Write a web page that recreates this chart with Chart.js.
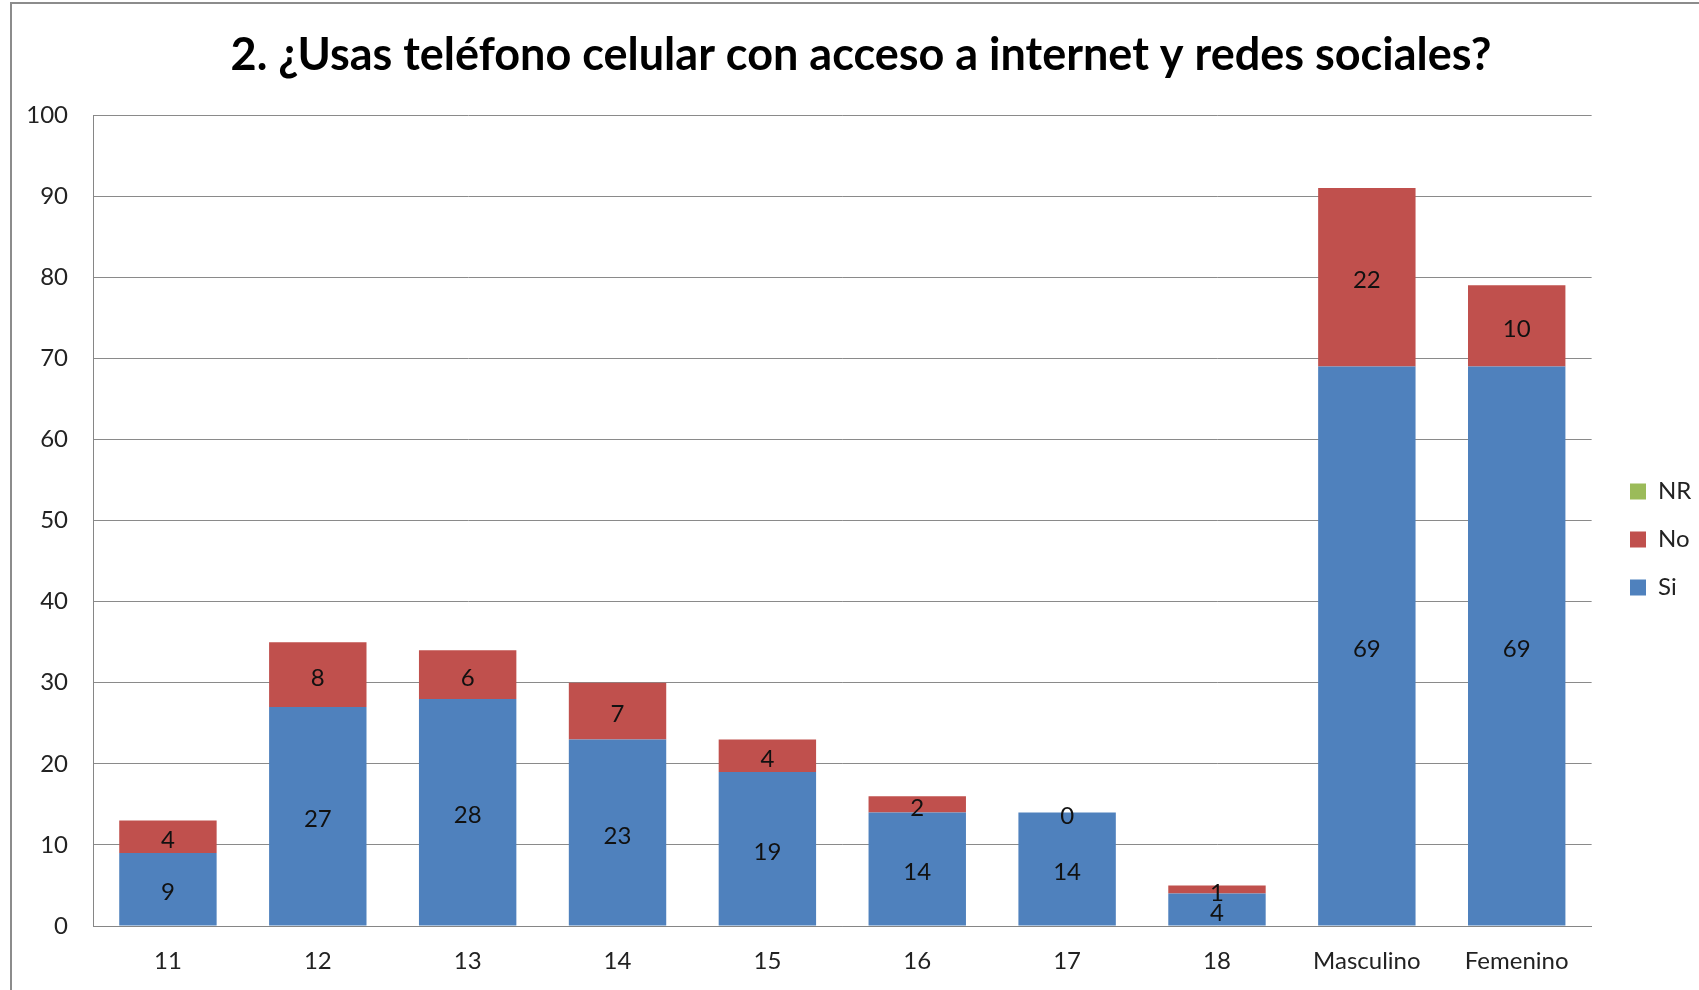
<!DOCTYPE html>
<html>
<head>
<meta charset="utf-8">
<script src="https://cdn.jsdelivr.net/npm/chart.js@4/dist/chart.umd.min.js"></script>
<style>
html,body{margin:0;padding:0;background:#fff;overflow:hidden;}
#wrap{position:relative;width:1699px;height:990px;}
canvas{display:block;}
</style>
</head>
<body>
<div id="wrap"><canvas id="c" width="1699" height="990"></canvas></div>
<script>
const title = "2. ¿Usas teléfono celular con acceso a internet y redes sociales?";
const categories = ["11","12","13","14","15","16","17","18","Masculino","Femenino"];
const siValues = [9,27,28,23,19,14,14,4,69,69];
const noValues = [4,8,6,7,4,2,0,1,22,10];
const nrValues = [null,null,null,null,null,null,null,null,null,null];
const yTicks = [0,10,20,30,40,50,60,70,80,90,100];

const FONT = "Lato, 'Open Sans', sans-serif";

const frame = {
  id: 'frame',
  beforeDraw(chart) {
    const ctx = chart.ctx;
    ctx.save();
    ctx.fillStyle = '#fff';
    ctx.fillRect(0,0,chart.width,chart.height);
    ctx.strokeStyle = '#8c8c8c';
    ctx.lineWidth = 2;
    ctx.beginPath();
    ctx.moveTo(11, chart.height + 5);
    ctx.lineTo(11, 3);
    ctx.lineTo(chart.width + 5, 3);
    ctx.stroke();
    ctx.restore();
  }
};

const boxPlace = {
  id: 'boxPlace',
  afterLayout(chart) {
    const lg = chart.legend;
    if (lg) {
      const w = lg.right - lg.left;
      lg.left = 1630 - lg.options.labels.padding;
      lg.right = lg.left + w;
      lg.top += 34.5;
      lg.bottom += 34.5;
    }
    const tb = chart.titleBlock;
    if (tb) {
      tb.left += 11.5;
      tb.right += 11.5;
    }
  }
};

const valueLabels = {
  id: 'valueLabels',
  afterDatasetsDraw(chart) {
    const ctx = chart.ctx;
    ctx.save();
    ctx.font = "24px " + FONT;
    ctx.fillStyle = '#111';
    ctx.textAlign = 'center';
    ctx.textBaseline = 'middle';
    chart.data.datasets.forEach((ds, i) => {
      const meta = chart.getDatasetMeta(i);
      meta.data.forEach((el, j) => {
        const v = ds.data[j];
        if (v === null || v === undefined) return;
        const p = el.getProps(['x','y','base'], true);
        ctx.fillText(String(v), p.x, (p.y + p.base) / 2 + 3.5);
      });
    });
    ctx.restore();
  }
};

new Chart(document.getElementById('c'), {
  type: 'bar',
  data: {
    labels: categories,
    datasets: [
      {label: 'Si', data: siValues, backgroundColor: '#4F81BD', borderWidth: 0},
      {label: 'No', data: noValues, backgroundColor: '#C0504D', borderWidth: 0},
      {label: 'NR', data: nrValues, backgroundColor: '#9BBB59', borderWidth: 0}
    ]
  },
  options: {
    responsive: false,
    animation: false,
    layout: {padding: {left: 12, right: 12, top: 20, bottom: 0}},
    datasets: {bar: {categoryPercentage: 1.0, barPercentage: 0.65}},
    scales: {
      x: {
        stacked: true,
        grid: {display: false, drawTicks: false},
        border: {display: true, color: '#868686', width: 1},
        ticks: {color: '#222', font: {family: FONT, size: 24}, padding: 21, maxRotation: 0, autoSkip: false},
        afterFit(axis) { axis.height = 64; }
      },
      y: {
        stacked: true,
        min: 0, max: 100,
        afterBuildTicks(axis) { axis.ticks = yTicks.map(v => ({value: v})); },
        grid: {color: '#8a8a8a', lineWidth: 1, drawTicks: false},
        border: {display: true, color: '#868686', width: 1},
        ticks: {color: '#222', font: {family: FONT, size: 24}, padding: 25},
        afterFit(axis) { axis.width = 81; }
      }
    },
    plugins: {
      title: {
        display: true,
        text: title,
        color: '#000',
        font: {family: FONT, size: 45, weight: 'bold'},
        padding: {top: 8, bottom: 33}
      },
      legend: {
        position: 'right',
        reverse: true,
        labels: {
          boxWidth: 16, boxHeight: 16,
          color: '#222',
          font: {family: FONT, size: 24},
          padding: 24
        }
      },
      tooltip: {enabled: false}
    }
  },
  plugins: [frame, boxPlace, valueLabels]
});
</script>
</body>
</html>
